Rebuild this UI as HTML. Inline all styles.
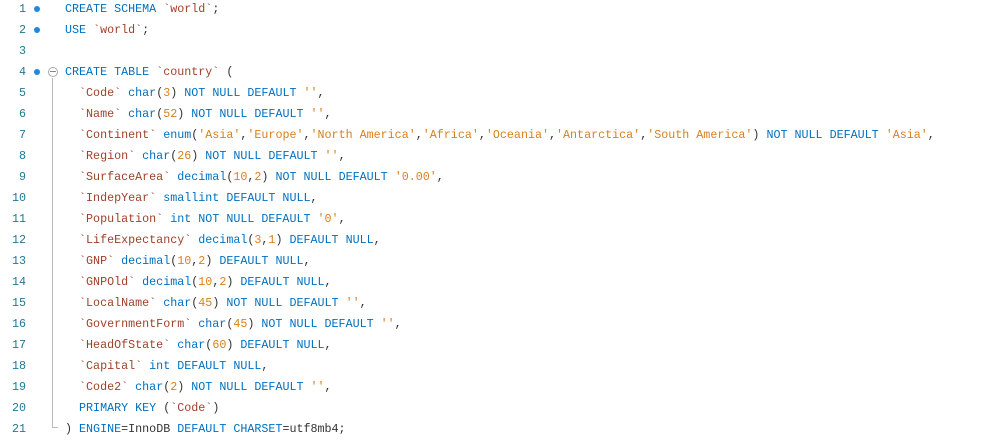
<!DOCTYPE html>
<html><head><style>
body{margin:0;background:#fff;width:986px;height:444px;overflow:hidden;position:relative;font-family:"Liberation Mono",monospace;font-size:11.7px;}
.l{position:absolute;left:0;height:21px;line-height:21px;white-space:pre;}
.n{position:absolute;left:0;width:26px;text-align:right;color:#237893;}
.d{position:absolute;left:34px;top:7px;width:6px;height:6px;border-radius:50%;background:#1e88e5;}
.c{position:absolute;left:65px;color:#333;}
.k{color:#0070c1}.i{color:#a0402a}.s{color:#d8801c}
</style></head><body>
<div style="position:absolute;left:52px;top:78px;width:1px;height:350px;background:#bbb"></div>
<div style="position:absolute;left:52px;top:427px;width:6px;height:1px;background:#bbb"></div>
<div style="position:absolute;left:48px;top:67px;width:8px;height:8px;border:1px solid #aaa;border-radius:50%;background:#fff"></div>
<div style="position:absolute;left:50px;top:71px;width:6px;height:1px;background:#888"></div>

<div class="l" style="top:-1px"><span class="n">1</span><span class="d"></span><span class="c"><span class="k">CREATE SCHEMA</span> <span class="i">`world`</span>;</span></div>
<div class="l" style="top:20px"><span class="n">2</span><span class="d"></span><span class="c"><span class="k">USE</span> <span class="i">`world`</span>;</span></div>
<div class="l" style="top:41px"><span class="n">3</span></div>
<div class="l" style="top:62px"><span class="n">4</span><span class="d"></span><span class="c"><span class="k">CREATE TABLE</span> <span class="i">`country`</span> (</span></div>
<div class="l" style="top:83px"><span class="n">5</span><span class="c">  <span class="i">`Code`</span> <span class="k">char</span>(<span class="s">3</span>) <span class="k">NOT NULL DEFAULT</span> <span class="s">''</span>,</span></div>
<div class="l" style="top:104px"><span class="n">6</span><span class="c">  <span class="i">`Name`</span> <span class="k">char</span>(<span class="s">52</span>) <span class="k">NOT NULL DEFAULT</span> <span class="s">''</span>,</span></div>
<div class="l" style="top:125px"><span class="n">7</span><span class="c">  <span class="i">`Continent`</span> <span class="k">enum</span>(<span class="s">'Asia'</span>,<span class="s">'Europe'</span>,<span class="s">'North America'</span>,<span class="s">'Africa'</span>,<span class="s">'Oceania'</span>,<span class="s">'Antarctica'</span>,<span class="s">'South America'</span>) <span class="k">NOT NULL DEFAULT</span> <span class="s">'Asia'</span>,</span></div>
<div class="l" style="top:146px"><span class="n">8</span><span class="c">  <span class="i">`Region`</span> <span class="k">char</span>(<span class="s">26</span>) <span class="k">NOT NULL DEFAULT</span> <span class="s">''</span>,</span></div>
<div class="l" style="top:167px"><span class="n">9</span><span class="c">  <span class="i">`SurfaceArea`</span> <span class="k">decimal</span>(<span class="s">10</span>,<span class="s">2</span>) <span class="k">NOT NULL DEFAULT</span> <span class="s">'0.00'</span>,</span></div>
<div class="l" style="top:188px"><span class="n">10</span><span class="c">  <span class="i">`IndepYear`</span> <span class="k">smallint DEFAULT NULL</span>,</span></div>
<div class="l" style="top:209px"><span class="n">11</span><span class="c">  <span class="i">`Population`</span> <span class="k">int NOT NULL DEFAULT</span> <span class="s">'0'</span>,</span></div>
<div class="l" style="top:230px"><span class="n">12</span><span class="c">  <span class="i">`LifeExpectancy`</span> <span class="k">decimal</span>(<span class="s">3</span>,<span class="s">1</span>) <span class="k">DEFAULT NULL</span>,</span></div>
<div class="l" style="top:251px"><span class="n">13</span><span class="c">  <span class="i">`GNP`</span> <span class="k">decimal</span>(<span class="s">10</span>,<span class="s">2</span>) <span class="k">DEFAULT NULL</span>,</span></div>
<div class="l" style="top:272px"><span class="n">14</span><span class="c">  <span class="i">`GNPOld`</span> <span class="k">decimal</span>(<span class="s">10</span>,<span class="s">2</span>) <span class="k">DEFAULT NULL</span>,</span></div>
<div class="l" style="top:293px"><span class="n">15</span><span class="c">  <span class="i">`LocalName`</span> <span class="k">char</span>(<span class="s">45</span>) <span class="k">NOT NULL DEFAULT</span> <span class="s">''</span>,</span></div>
<div class="l" style="top:314px"><span class="n">16</span><span class="c">  <span class="i">`GovernmentForm`</span> <span class="k">char</span>(<span class="s">45</span>) <span class="k">NOT NULL DEFAULT</span> <span class="s">''</span>,</span></div>
<div class="l" style="top:335px"><span class="n">17</span><span class="c">  <span class="i">`HeadOfState`</span> <span class="k">char</span>(<span class="s">60</span>) <span class="k">DEFAULT NULL</span>,</span></div>
<div class="l" style="top:356px"><span class="n">18</span><span class="c">  <span class="i">`Capital`</span> <span class="k">int DEFAULT NULL</span>,</span></div>
<div class="l" style="top:377px"><span class="n">19</span><span class="c">  <span class="i">`Code2`</span> <span class="k">char</span>(<span class="s">2</span>) <span class="k">NOT NULL DEFAULT</span> <span class="s">''</span>,</span></div>
<div class="l" style="top:398px"><span class="n">20</span><span class="c">  <span class="k">PRIMARY KEY</span> (<span class="i">`Code`</span>)</span></div>
<div class="l" style="top:419px"><span class="n">21</span><span class="c">) <span class="k">ENGINE</span>=InnoDB <span class="k">DEFAULT CHARSET</span>=utf8mb4;</span></div>
</body></html>
